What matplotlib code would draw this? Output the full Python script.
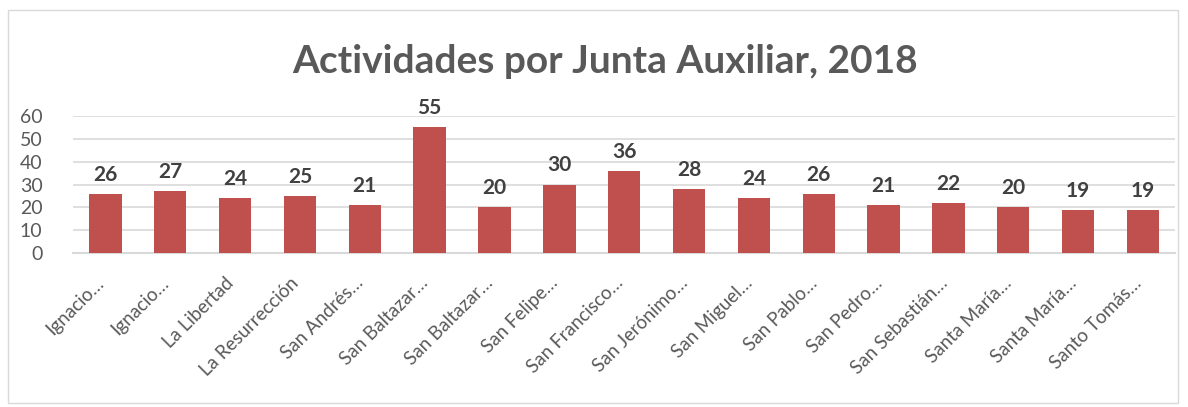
import matplotlib.pyplot as plt
import matplotlib.patches as mpatches
from matplotlib.transforms import ScaledTranslation
import numpy as np

juntas = ['Ignacio…', 'Ignacio…', 'La Libertad', 'La Resurrección', 'San Andrés…',
          'San Baltazar…', 'San Baltazar…', 'San Felipe…', 'San Francisco…',
          'San Jerónimo…', 'San Miguel…', 'San Pablo…', 'San Pedro…',
          'San Sebastián…', 'Santa María…', 'Santa María…', 'Santo Tomás…']
actividades = [26, 27, 24, 25, 21, 55, 20, 30, 36, 28, 24, 26, 21, 22, 20, 19, 19]
yticks = [0, 10, 20, 30, 40, 50, 60]

plt.rcParams['font.family'] = ['Lato', 'DejaVu Sans']

fig = plt.figure(figsize=(11.88, 4.07), dpi=100)
ax = fig.add_axes([0.0614, 0.378, 0.928, 0.337])

x = np.arange(len(juntas))
ax.bar(x, actividades, width=0.5, color='#C0504D', zorder=3)
for xi, v in zip(x, actividades):
    ax.text(xi, v + 4, str(v), ha='center', va='bottom', fontsize=15,
            fontweight='bold', color='#404040', clip_on=False)

ax.set_xlim(-0.5, len(juntas) - 0.5)
ax.set_ylim(0, 60)
ax.set_yticks(yticks)
ax.set_yticklabels([str(t) for t in yticks], fontsize=14, color='#595959')
ax.set_xticks(x)
ax.set_xticklabels([])
# category labels, a bit left of and below the ticks as in the original
lab_trans = ax.get_xaxis_transform() + ScaledTranslation(-0.10, -0.21, fig.dpi_scale_trans)
for xi, name in zip(x, juntas):
    ax.text(xi, 0, name, transform=lab_trans, rotation=45, ha='right', va='top',
            rotation_mode='anchor', fontsize=13.5, color='#595959', clip_on=False)
ax.tick_params(axis='both', length=0)
ax.tick_params(axis='y', pad=22)
ax.grid(axis='y', color='#D9D9D9', linewidth=1.2, zorder=0)
for s in ['top', 'right', 'left']:
    ax.spines[s].set_visible(False)
ax.spines['bottom'].set_color('#D9D9D9')
ax.spines['bottom'].set_linewidth(1.5)

fig.text(0.509, 0.85, 'Actividades por Junta Auxiliar, 2018', ha='center', va='center',
         fontsize=28, fontweight='bold', color='#595959')

fig.patches.append(mpatches.Rectangle((0.007, 0.01), 0.985, 0.965, transform=fig.transFigure,
                                      fill=False, edgecolor='#D9D9D9', linewidth=1))

fig.savefig('out.png', dpi=100)
